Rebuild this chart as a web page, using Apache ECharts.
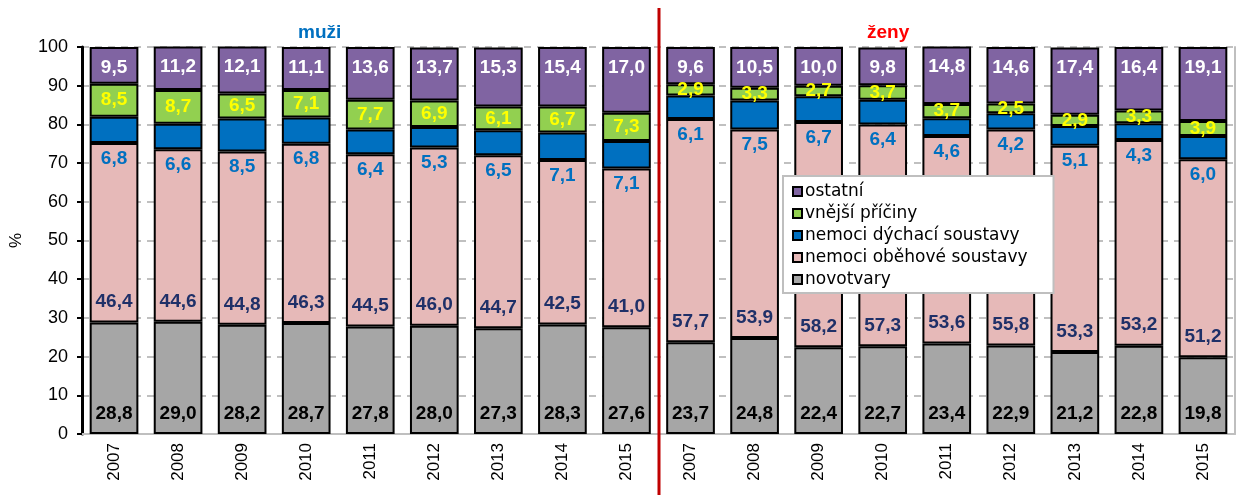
<!DOCTYPE html>
<html>
<head>
<meta charset="utf-8">
<script src="https://cdn.jsdelivr.net/npm/echarts@6/dist/echarts.min.js"></script>
<style>
  html, body { margin: 0; padding: 0; background: #fff; }
  #chart { width: 1240px; height: 495px; }
</style>
</head>
<body>
<div id="chart"></div>
<script>
// roky pro obě skupiny (muži | ženy)
var years = ['2007', '2008', '2009', '2010', '2011', '2012', '2013', '2014', '2015']

// struktura zemřelých v % - muži
var menNovotvary = [28.8, 29.0, 28.2, 28.7, 27.8, 28.0, 27.3, 28.3, 27.6]
var menObehove = [46.4, 44.6, 44.8, 46.3, 44.5, 46.0, 44.7, 42.5, 41.0]
var menDychaci = [6.8, 6.6, 8.5, 6.8, 6.4, 5.3, 6.5, 7.1, 7.1]
var menVnejsi = [8.5, 8.7, 6.5, 7.1, 7.7, 6.9, 6.1, 6.7, 7.3]
var menOstatni = [9.5, 11.2, 12.1, 11.1, 13.6, 13.7, 15.3, 15.4, 17.0]

// struktura zemřelých v % - ženy
var womenNovotvary = [23.7, 24.8, 22.4, 22.7, 23.4, 22.9, 21.2, 22.8, 19.8]
var womenObehove = [57.7, 53.9, 58.2, 57.3, 53.6, 55.8, 53.3, 53.2, 51.2]
var womenDychaci = [6.1, 7.5, 6.7, 6.4, 4.6, 4.2, 5.1, 4.3, 6.0]
var womenVnejsi = [2.9, 3.3, 2.7, 3.7, 3.7, 2.5, 2.9, 3.3, 3.9]
var womenOstatni = [9.6, 10.5, 10.0, 9.8, 14.8, 14.6, 17.4, 16.4, 19.1]

var yTicks = [0, 10, 20, 30, 40, 50, 60, 70, 80, 90, 100]

var categories = years.concat(years)
var fmt = function (p) {
  return p.value.toFixed(1).replace('.', ',')
}

function bar(name, data, color, label) {
  return {
    name: name,
    type: 'bar',
    stack: 'all',
    barCategoryGap: '24%',
    data: data,
    itemStyle: { color: color, borderColor: '#000', borderWidth: 2 },
    label: Object.assign(
      {
        show: true,
        formatter: fmt,
        fontFamily: 'Liberation Sans, Arial, sans-serif',
        fontWeight: 'bold',
        fontSize: 19,
      },
      label
    ),
  }
}

var chart = echarts.init(document.getElementById('chart'))

var option = {
  animation: false,
  grid: { left: 77, right: 5, top: 47, bottom: 61 },
  legend: {
    orient: 'vertical',
    left: 783,
    top: 176,
    padding: [7, 26, 5, 9],
    backgroundColor: '#fff',
    borderColor: '#bfbfbf',
    borderWidth: 2,
    itemWidth: 9,
    itemHeight: 9,
    itemGap: 5,
    icon: 'rect',
    textStyle: {
      fontFamily: 'DejaVu Sans, sans-serif',
      fontSize: 17,
      color: '#000',
      padding: [0, 0, 0, -2],
    },
    data: ['ostatní', 'vnější příčiny', 'nemoci dýchací soustavy', 'nemoci oběhové soustavy', 'novotvary'],
  },
  xAxis: {
    type: 'category',
    data: categories,
    axisLine: { lineStyle: { color: '#bfbfbf', width: 2 } },
    axisTick: { length: 5, lineStyle: { color: '#bfbfbf', width: 2 } },
    axisLabel: {
      rotate: 90,
      margin: 9,
      fontFamily: 'Liberation Sans, Arial, sans-serif',
      fontSize: 17,
      color: '#000',
    },
  },
  yAxis: [
    {
      type: 'value',
      min: yTicks[0],
      max: yTicks[yTicks.length - 1],
      interval: 10,
      name: '%',
      nameLocation: 'middle',
      nameGap: 57,
      nameTextStyle: { fontFamily: 'Liberation Sans, Arial, sans-serif', fontSize: 17, color: '#000' },
      axisLine: { show: true, lineStyle: { color: '#000', width: 3 } },
      axisTick: { show: true, length: 5, lineStyle: { color: '#000', width: 2 } },
      axisLabel: {
        margin: 14,
        fontFamily: 'Liberation Sans, Arial, sans-serif',
        fontSize: 18,
        color: '#000',
      },
      splitLine: { show: true, lineStyle: { color: '#c0c0c0', width: 2, type: [7, 6] } },
    },
    {
      // jen pravý okraj grafu
      type: 'value',
      position: 'right',
      min: 0,
      max: 100,
      axisLine: { show: true, lineStyle: { color: '#bfbfbf', width: 2 } },
      axisTick: { show: false },
      axisLabel: { show: false },
      splitLine: { show: false },
    },
  ],
  series: [
    bar('novotvary', menNovotvary.concat(womenNovotvary), '#a6a6a6', {
      position: 'insideBottom',
      distance: 11,
      color: '#000',
    }),
    bar('nemoci oběhové soustavy', menObehove.concat(womenObehove), '#e6b9b8', {
      position: 'insideBottom',
      distance: 11,
      color: '#1f3068',
    }),
    bar('nemoci dýchací soustavy', menDychaci.concat(womenDychaci), '#0070c0', {
      position: 'bottom',
      distance: 6,
      color: '#0070c0',
    }),
    bar('vnější příčiny', menVnejsi.concat(womenVnejsi), '#92d050', {
      position: 'inside',
      color: '#ffff00',
    }),
    bar('ostatní', menOstatni.concat(womenOstatni), '#8064a2', {
      position: 'insideTop',
      distance: 11,
      color: '#fff',
    }),
  ],
}

chart.setOption(option)

// dělicí čára mezi muži a ženami
var xa = chart.convertToPixel({ xAxisIndex: 0 }, years.length - 1)
var xb = chart.convertToPixel({ xAxisIndex: 0 }, years.length)
var sepX = Math.round((xa + xb) / 2)

chart.setOption({
  graphic: [
    {
      type: 'line',
      shape: { x1: sepX, y1: 8, x2: sepX, y2: 495 },
      style: { stroke: '#c00000', lineWidth: 3 },
      z: 100,
    },
    {
      type: 'text',
      left: 298,
      top: 23,
      style: { text: 'muži', fill: '#0070c0', font: 'bold 19px Liberation Sans, Arial, sans-serif' },
    },
    {
      type: 'text',
      left: 867,
      top: 23,
      style: { text: 'ženy', fill: '#ff0000', font: 'bold 19px Liberation Sans, Arial, sans-serif' },
    },
  ],
})
</script>
</body>
</html>
